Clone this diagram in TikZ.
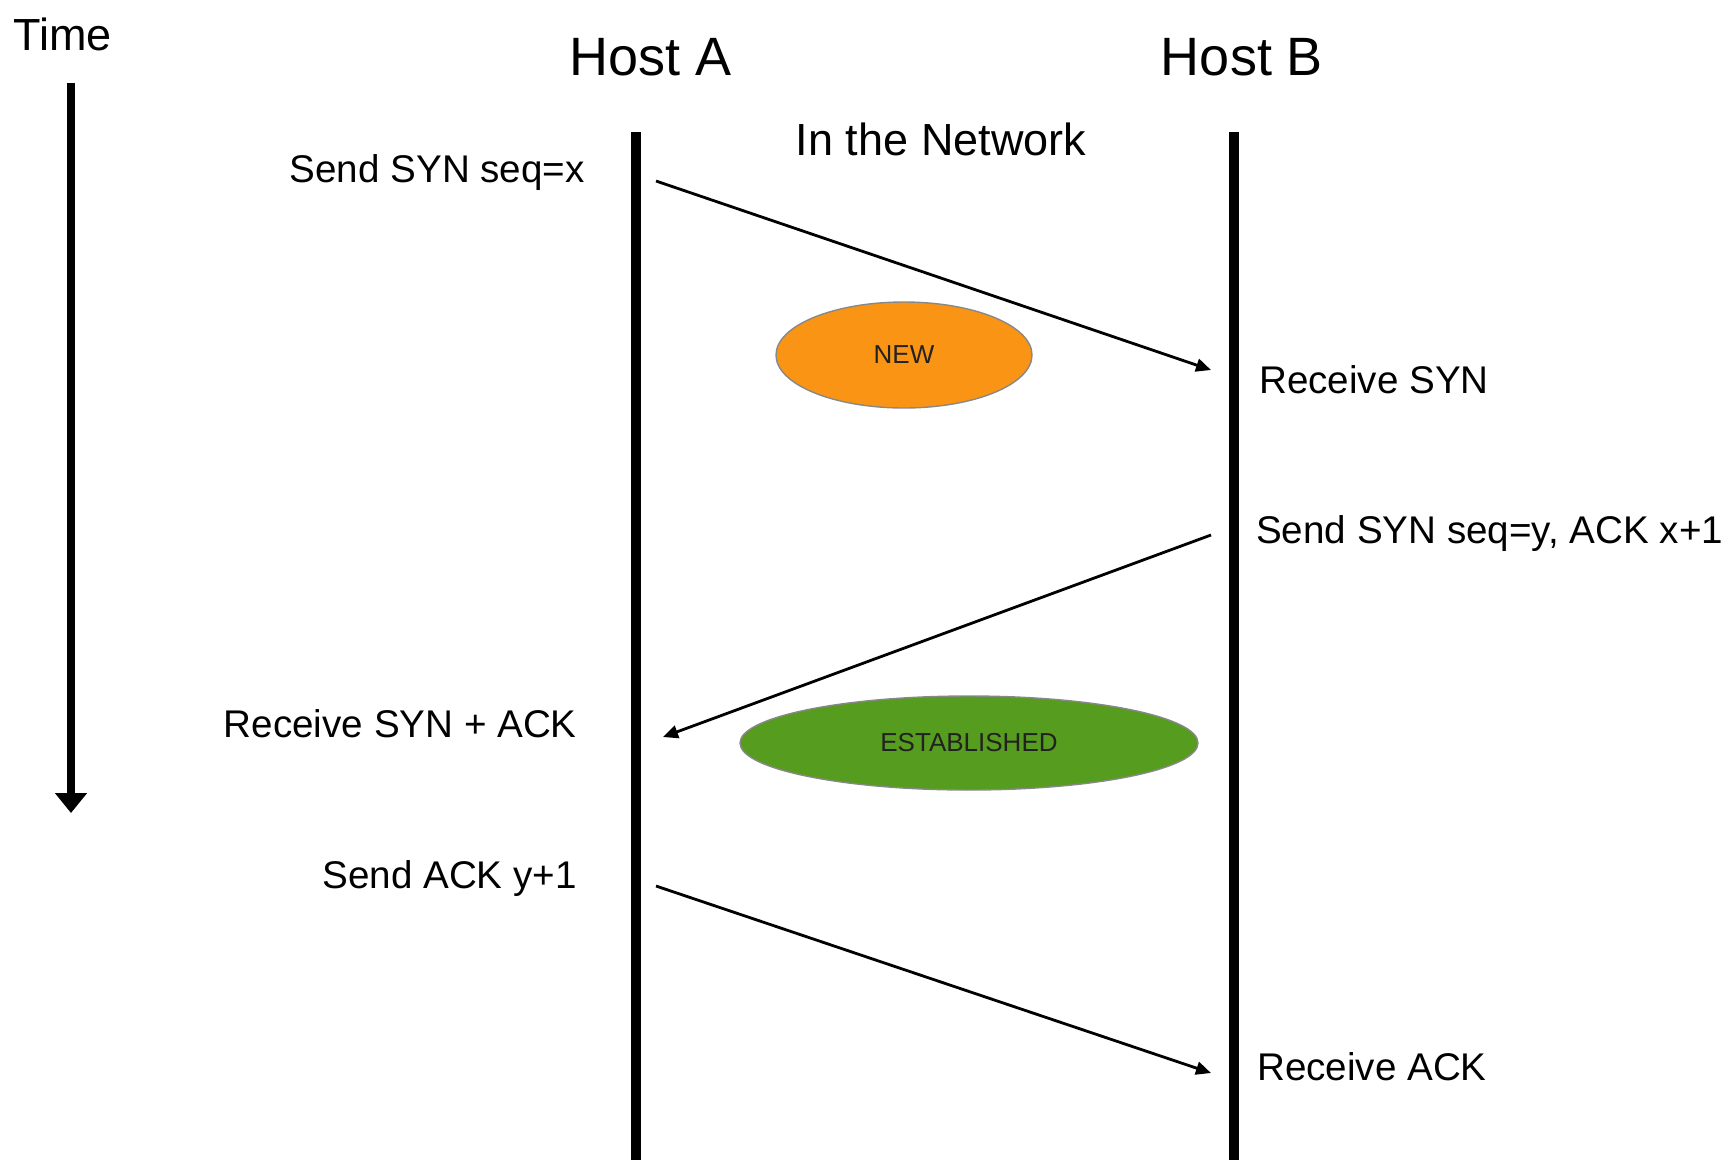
\documentclass[tikz,border=0pt]{standalone}
\usepackage{fontspec}
\setmainfont{Liberation Sans}
\usetikzlibrary{shapes.geometric,arrows.meta}

\definecolor{neworange}{RGB}{250,148,20}
\definecolor{estgreen}{RGB}{86,156,30}
\definecolor{rimgray}{RGB}{136,136,136}
\definecolor{stategray}{RGB}{34,34,34}

\begin{document}
\begin{tikzpicture}[x=1pt,y=-1pt,
  lbl/.style={inner sep=0pt,font=\fontsize{38.6}{41}\selectfont},
  head/.style={inner sep=0pt,font=\fontsize{54}{58}\selectfont},
  mid/.style={inner sep=0pt,font=\fontsize{45}{48}\selectfont},
  hostline/.style={line width=9.5pt},
  msg/.style={line width=2.8pt,-{Triangle[length=15pt,width=13pt]}},
  state/.style={ellipse,draw=rimgray,line width=1.4pt,inner sep=0pt,
    text=stategray,font=\fontsize{26}{28}\selectfont}]
  \useasboundingbox (0,0) rectangle (1723,1160);

  % time axis
  \node[mid,anchor=base west] (time) at (13,50) {Time};
  \coordinate (t0) at (71,83);
  \coordinate (t1) at (71,813);
  \draw[line width=8pt,-{Triangle[length=20pt,width=31pt]}] (t0) -- (t1);

  % hosts and their lifelines
  \node[head,anchor=base] (hostA) at (651,75) {Host A};
  \node[head,anchor=base] (hostB) at (1242,75) {Host B};
  \node[mid,anchor=base] (net) at (941,155) {In the Network};
  \coordinate (aTop) at (636,132);
  \coordinate (aBot) at (636,1160);
  \coordinate (bTop) at (1234,132);
  \coordinate (bBot) at (1234,1160);
  \draw[hostline] (aTop) -- (aBot);
  \draw[hostline] (bTop) -- (bBot);

  % event labels
  \node[lbl,anchor=base east] (sendSyn) at (585,182) {Send SYN seq=x};
  \node[lbl,anchor=base west] (recvSyn) at (1259,393) {Receive SYN};
  \node[lbl,anchor=base west] (sendSynAck) at (1256,543) {Send SYN seq=y, ACK x+1};
  \node[lbl,anchor=base east] (recvSynAck) at (577,737) {Receive SYN + ACK};
  \node[lbl,anchor=base east] (sendAck) at (577,888) {Send ACK y+1};
  \node[lbl,anchor=base west] (recvAck) at (1257,1080) {Receive ACK};

  % connection states
  \node[state,fill=neworange,minimum width=256pt,minimum height=106pt] (new) at (904,355) {NEW};
  \node[state,fill=estgreen,minimum width=458pt,minimum height=94pt] (est) at (969,743) {ESTABLISHED};

  % handshake messages
  \coordinate (m1s) at (656,181);
  \coordinate (m1e) at (1211,370);
  \coordinate (m2s) at (1211,535);
  \coordinate (m2e) at (663,737);
  \coordinate (m3s) at (656,886);
  \coordinate (m3e) at (1211,1073);
  \draw[msg] (m1s) -- (m1e);
  \draw[msg] (m2s) -- (m2e);
  \draw[msg] (m3s) -- (m3e);
\end{tikzpicture}
\end{document}
